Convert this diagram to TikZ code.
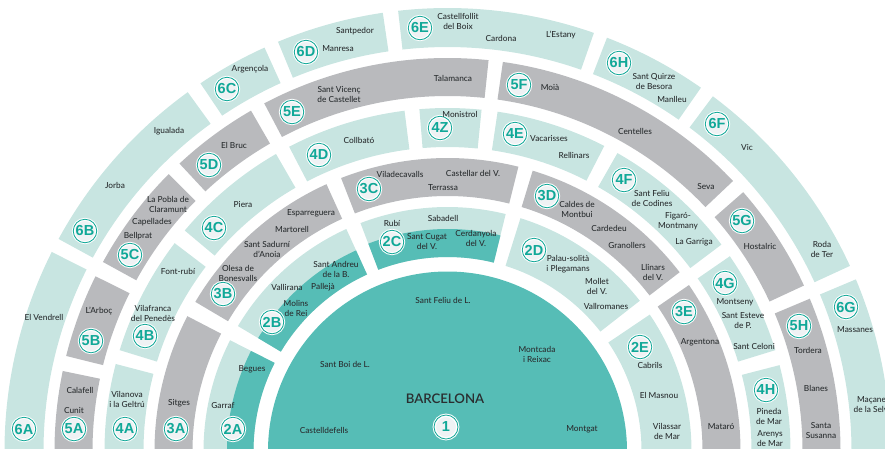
\documentclass[tikz,border=0pt]{standalone}
\usepackage{fontspec}
\setmainfont{Lato Medium}
\newfontfamily\badgefont{Liberation Sans}
\newfontfamily\titlefont{Lato Semibold}
\definecolor{palezone}{HTML}{C8E5E1}
\definecolor{greyzone}{HTML}{B9BABD}
\definecolor{corezone}{HTML}{56BDB6}
\definecolor{badgeteal}{HTML}{10A898}
\definecolor{badgefill}{HTML}{EFF2F4}
\definecolor{labeltext}{HTML}{2A2E30}

% inner radius, outer radius, start angle, end angle
\newcommand{\sector}[5]{\fill[#1] (#4:#3) arc[start angle=#4, end angle=#5, radius=#3]
    -- (#5:#2) arc[start angle=#5, end angle=#4, radius=#2] -- cycle;}

\begin{document}
\begin{tikzpicture}[
            x = 1pt,
            y = 1pt,
            town/.style = {font=\fontsize{8.3}{10}\selectfont, text=labeltext, align=center, inner sep=0pt},
            badge/.style = {circle, draw=badgeteal, line width=0.8pt, fill=badgefill,
                preaction={draw=white, line width=2.8pt}, minimum size=23.5pt, inner sep=0pt,
                path picture={\draw[white, line width=1pt] (path picture bounding box.center) circle[radius=10.6pt];},
                text=badgeteal, font=\badgefont\bfseries\fontsize{14.5}{14.5}\selectfont}
        ]

        \useasboundingbox (0,0) rectangle (885,-448);
        \clip (0,0) rectangle (885,-448);

        \begin{scope}[shift={(447.5,-451)}]
        % core
        \fill[corezone] (0,0) circle[radius=179.5];

        % ring 2
        \sector{palezone}{194}{244}{153}{180}
        \sector{palezone}{194}{244}{114.5}{149.2}
        \sector{palezone}{194}{244}{76.2}{110.9}
        \sector{palezone}{194}{244}{38}{72.6}
        \sector{palezone}{194}{244}{0}{34}
        \sector{corezone}{194}{220.5}{153}{180}
        \sector{corezone}{194}{220.5}{114.5}{149.2}
        \sector{corezone}{194}{222}{76.2}{110.9}

        % ring 3
        \sector{greyzone}{255}{293}{152.6}{180}
        \sector{greyzone}{255}{293}{114.4}{149.4}
        \sector{greyzone}{255}{293}{76}{111.3}
        \sector{greyzone}{255}{293}{37.6}{73.1}
        \sector{greyzone}{255}{293}{0}{34.5}

        % ring 4
        \sector{palezone}{304}{343}{165.3}{180}
        \sector{palezone}{304}{343}{142.7}{162.9}
        \sector{palezone}{304}{343}{120}{140}
        \sector{palezone}{304}{343}{97.2}{117.5}
        \sector{palezone}{304}{343}{84.3}{94.7}
        \sector{palezone}{304}{343}{62.8}{81.6}
        \sector{palezone}{304}{343}{37}{60.3}
        \sector{palezone}{304}{343}{17.1}{34.6}
        \sector{palezone}{304}{343}{0}{14.5}

        % ring 5
        \sector{greyzone}{355}{393}{168.25}{180}
        \sector{greyzone}{355}{393}{153.6}{166}
        \sector{greyzone}{355}{393}{135.2}{151.25}
        \sector{greyzone}{355}{393}{120}{133}
        \sector{greyzone}{355}{393}{84}{117.8}
        \sector{greyzone}{355}{393}{43.4}{81.9}
        \sector{greyzone}{355}{393}{24.9}{41.2}
        \sector{greyzone}{355}{393}{0}{22.8}

        % ring 6
        \sector{palezone}{404}{443}{153.3}{180}
        \sector{palezone}{404}{443}{125.9}{151.4}
        \sector{palezone}{404}{443}{114.4}{123.9}
        \sector{palezone}{404}{443}{98.4}{112.5}
        \sector{palezone}{404}{443}{70.7}{96.4}
        \sector{palezone}{404}{443}{55.1}{68.9}
        \sector{palezone}{404}{443}{24.7}{53.2}
        \sector{palezone}{404}{443}{0}{22.8}
        \end{scope}

        % core
        \node[town, font=\titlefont\fontsize{13.2}{13.2}\selectfont] (barcelona) at (445,-399) {BARCELONA};
        \node[badge, minimum size=24pt] (z1) at (446,-427) {1};
        \node[town] (feliu) at (443,-300) {Sant Feliu de L.};
        \node[town] (boi) at (345,-364) {Sant Boi de L.};
        \node[town] (castelldefells) at (324,-430) {Castelldefells};
        \node[town] (montcada) at (537,-354) {Montcada\\i Reixac};
        \node[town] (montgat) at (582,-429) {Montgat};

        % ring 2
        \node[badge] (z2a) at (233,-429) {2A};
        \node[town] (garraf) at (223,-405) {Garraf};
        \node[town] (begues) at (252,-369) {Begues};
        \node[badge] (z2b) at (272,-322) {2B};
        \node[town] (molins) at (296,-308) {Molins\\de Rei};
        \node[town] (vallirana) at (287,-287) {Vallirana};
        \node[town] (palleja) at (323,-287) {Pallejà};
        \node[town] (andreu) at (336,-269) {Sant Andreu\\de la B.};
        \node[badge] (z2c) at (392,-242) {2C};
        \node[town] (rubi) at (392,-223) {Rubí};
        \node[town] (sabadell) at (443,-218) {Sabadell};
        \node[town] (cugat) at (427,-242) {Sant Cugat\\del V.};
        \node[town] (cerdanyola) at (476,-238) {Cerdanyola\\del V.};
        \node[badge] (z2d) at (534,-250) {2D};
        \node[town] (palau) at (568,-264) {Palau-solità\\i Plegamans};
        \node[town] (mollet) at (597,-286) {Mollet\\del V.};
        \node[town] (vallromanes) at (606,-306) {Vallromanes};
        \node[badge] (z2e) at (640,-347) {2E};
        \node[town] (cabrils) at (650,-365) {Cabrils};
        \node[town] (masnou) at (659,-395) {El Masnou};
        \node[town] (vilassar) at (667,-431) {Vilassar\\de Mar};

        % ring 3
        \node[badge] (z3a) at (176,-429) {3A};
        \node[town] (sitges) at (179,-403) {Sitges};
        \node[badge] (z3b) at (223,-294) {3B};
        \node[town] (olesa) at (238,-273) {Olesa de\\Bonesvalls};
        \node[town] (sadurni) at (267,-249) {Sant Sadurní\\d’Anoia};
        \node[town] (martorell) at (292,-229) {Martorell};
        \node[town] (esparreguera) at (311,-213) {Esparreguera};
        \node[badge] (z3c) at (369,-189) {3C};
        \node[town] (viladecavalls) at (400,-174) {Viladecavalls};
        \node[town] (castellar) at (473,-173) {Castellar del V.};
        \node[town] (terrassa) at (443,-188) {Terrassa};
        \node[badge] (z3d) at (547,-196) {3D};
        \node[town] (caldes) at (577,-209) {Caldes de\\Montbui};
        \node[town] (cardedeu) at (609,-228) {Cardedeu};
        \node[town] (granollers) at (627,-245) {Granollers};
        \node[town] (llinars) at (653,-272) {Llinars\\del V.};
        \node[badge] (z3e) at (684,-312) {3E};
        \node[town] (argentona) at (700,-342) {Argentona};
        \node[town] (mataro) at (721,-427) {Mataró};

        % ring 4
        \node[badge] (z4a) at (125,-429) {4A};
        \node[town] (vilanova) at (127,-399) {Vilanova\\i la Geltrú};
        \node[badge] (z4b) at (145,-336) {4B};
        \node[town] (vilafranca) at (153,-313) {Vilafranca\\del Penedès};
        \node[town] (fontrubi) at (178,-271) {Font-rubí};
        \node[badge] (z4c) at (214,-228) {4C};
        \node[town] (piera) at (243,-204) {Piera};
        \node[badge] (z4d) at (319,-155) {4D};
        \node[town] (collbato) at (359,-140) {Collbató};
        \node[badge] (z4z) at (440,-128) {4Z};
        \node[town] (monistrol) at (460,-114) {Monistrol};
        \node[badge] (z4e) at (515,-134) {4E};
        \node[town] (vacarisses) at (549,-138) {Vacarisses};
        \node[town] (rellinars) at (574,-155) {Rellinars};
        \node[badge] (z4f) at (624,-180) {4F};
        \node[town] (codines) at (652,-198) {Sant Feliu\\de Codines};
        \node[town] (figaro) at (678,-221) {Figaró-\\Montmany};
        \node[town] (garriga) at (694,-242) {La Garriga};
        \node[badge] (z4g) at (725,-283) {4G};
        \node[town] (montseny) at (735,-302) {Montseny};
        \node[town] (esteve) at (743,-321) {Sant Esteve\\de P.};
        \node[town] (celoni) at (754,-346) {Sant Celoni};
        \node[badge] (z4h) at (766,-390) {4H};
        \node[town] (pineda) at (769,-416) {Pineda\\de Mar};
        \node[town] (arenys) at (770,-439) {Arenys\\de Mar};

        % ring 5
        \node[badge] (z5a) at (74,-429) {5A};
        \node[town] (calafell) at (80,-390) {Calafell};
        \node[town] (cunit) at (74,-410) {Cunit};
        \node[badge] (z5b) at (91,-341) {5B};
        \node[town] (arboc) at (99,-311) {L’Arboç};
        \node[badge] (z5c) at (130,-255) {5C};
        \node[town] (bellprat) at (138,-236) {Bellprat};
        \node[town] (capellades) at (152,-222) {Capellades};
        \node[town] (pobla) at (168,-204) {La Pobla de\\Claramunt};
        \node[badge] (z5d) at (209,-165) {5D};
        \node[town] (bruc) at (234,-145) {El Bruc};
        \node[badge] (z5e) at (292,-112) {5E};
        \node[town] (vicenc) at (339,-94) {Sant Vicenç\\de Castellet};
        \node[town] (talamanca) at (453,-78) {Talamanca};
        \node[badge] (z5f) at (519,-85) {5F};
        \node[town] (moia) at (550,-87) {Moià};
        \node[town] (centelles) at (635,-131) {Centelles};
        \node[town] (seva) at (706,-187) {Seva};
        \node[badge] (z5g) at (742,-221) {5G};
        \node[town] (hostalric) at (760,-246) {Hostalric};
        \node[badge] (z5h) at (799,-326) {5H};
        \node[town] (tordera) at (808,-350) {Tordera};
        \node[town] (blanes) at (816,-388) {Blanes};
        \node[town] (susanna) at (821,-431) {Santa\\Susanna};

        % ring 6
        \node[badge] (z6a) at (24,-429) {6A};
        \node[town] (vendrell) at (44,-317) {El Vendrell};
        \node[badge] (z6b) at (85,-231) {6B};
        \node[town] (jorba) at (115,-185) {Jorba};
        \node[town] (igualada) at (169,-131) {Igualada};
        \node[badge] (z6c) at (227,-89) {6C};
        \node[town] (argencola) at (250,-69) {Argençola};
        \node[badge] (z6d) at (306,-52) {6D};
        \node[town] (manresa) at (338,-49) {Manresa};
        \node[town] (santpedor) at (355,-31) {Santpedor};
        \node[badge] (z6e) at (420,-28) {6E};
        \node[town] (castellfollit) at (458,-21) {Castellfollit\\del Boix};
        \node[town] (cardona) at (501,-38) {Cardona};
        \node[town] (estany) at (561,-35) {L’Estany};
        \node[badge] (z6h) at (619,-63) {6H};
        \node[town] (quirze) at (654,-81) {Sant Quirze\\de Besora};
        \node[town] (manlleu) at (672,-99) {Manlleu};
        \node[badge] (z6f) at (717,-124) {6F};
        \node[town] (vic) at (747,-147) {Vic};
        \node[town] (roda) at (822,-249) {Roda\\de Ter};
        \node[badge] (z6g) at (846,-307) {6G};
        \node[town] (massanes) at (855,-330) {Massanes};
        \node[town] (macanet) at (873,-405) {Maçanet\\de la Selva};

  \end{tikzpicture}
\end{document}
